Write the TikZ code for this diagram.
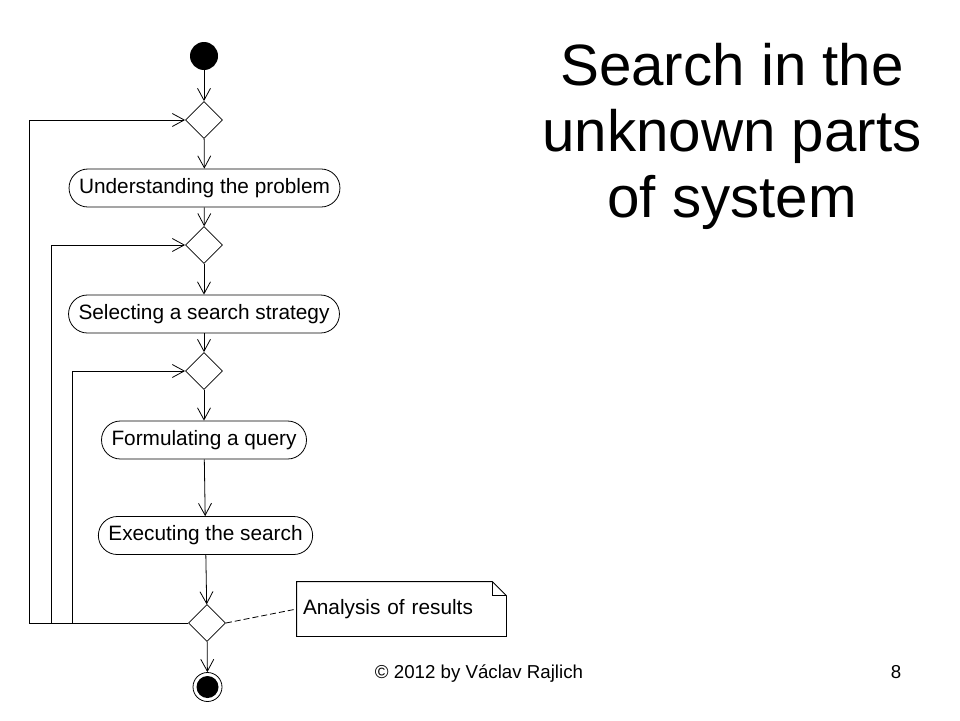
\documentclass[tikz,border=0pt]{standalone}
\usepackage{fontspec}
\setmainfont{Liberation Sans}
\usetikzlibrary{arrows.meta,shapes.geometric}
\begin{document}
\begin{tikzpicture}[x=1pt,y=-1pt,line width=0.8pt,
  act/.style={draw,rectangle,rounded corners=18.9pt,minimum height=38pt,inner xsep=10pt,font=\fontsize{20.8}{24}\selectfont},
  dec/.style={draw,diamond,aspect=1,minimum size=37pt,inner sep=0},
  flow/.style={-{Straight Barb[length=12pt,width=13pt]}},
  notebox/.style={minimum width=209pt,minimum height=54pt,text width=197pt,inner xsep=6pt,align=left,font=\fontsize{20.8}{24}\selectfont}]
\useasboundingbox(0,0)rectangle(960,720);
% title and footer
\node[inner sep=0,align=center,font=\fontsize{58.3}{66}\selectfont](title)at(732,136){Search in the\\unknown parts\\of system};
\node[anchor=base,font=\fontsize{18.7}{22}\selectfont](copy)at(479,678){© 2012 by Václav Rajlich};
\node[anchor=base,font=\fontsize{18.7}{22}\selectfont](page)at(896,678){8};
% activity diagram
\node[circle,fill=black,minimum size=28pt,inner sep=0](start)at(204,56){};
\node[dec](d1)at(204,120){};
\node[act](under)at(204.5,188){Understanding the problem};
\node[dec](d2)at(204,245){};
\node[act](select)at(204,314){Selecting a search strategy};
\node[dec](d3)at(204,371){};
\node[act](query)at(204,440){Formulating a query};
\node[act](exec)at(205.5,535.5){Executing the search};
\node[dec](d4)at(207,623){};
\node[circle,draw,minimum size=29pt,inner sep=0](stop)at(207.5,687){};
\node[circle,fill=black,minimum size=22pt,inner sep=0]at(stop){};
\draw[flow](start)--(d1);
\draw[flow](d1)--(under);
\draw[flow](under)--(d2);
\draw[flow](d2)--(select);
\draw[flow](select)--(d3);
\draw[flow](d3)--(query);
\draw[flow](query)--(exec);
\draw[flow](exec)--(d4);
\draw[flow](d4)--(stop);
% loops back
\coordinate(l1)at(29,120);
\coordinate(l2)at(51,245);
\coordinate(l3)at(72,371);
\draw[flow](d4.west)-|(l1)--(d1.west);
\draw[flow](d4.west)-|(l2)--(d2.west);
\draw[flow](d4.west)-|(l3)--(d3.west);
% note
\node[notebox](note)at(401.5,609){Analysis of results};
\draw(note.north west)--([xshift=-14pt]note.north east)--([yshift=-14pt]note.north east)--(note.south east)--(note.south west)--cycle;
\draw([xshift=-14pt]note.north east)|-([yshift=-14pt]note.north east);
\draw[dashed,dash pattern=on 6pt off 3pt](d4.east)--(note.west);
\end{tikzpicture}
\end{document}
